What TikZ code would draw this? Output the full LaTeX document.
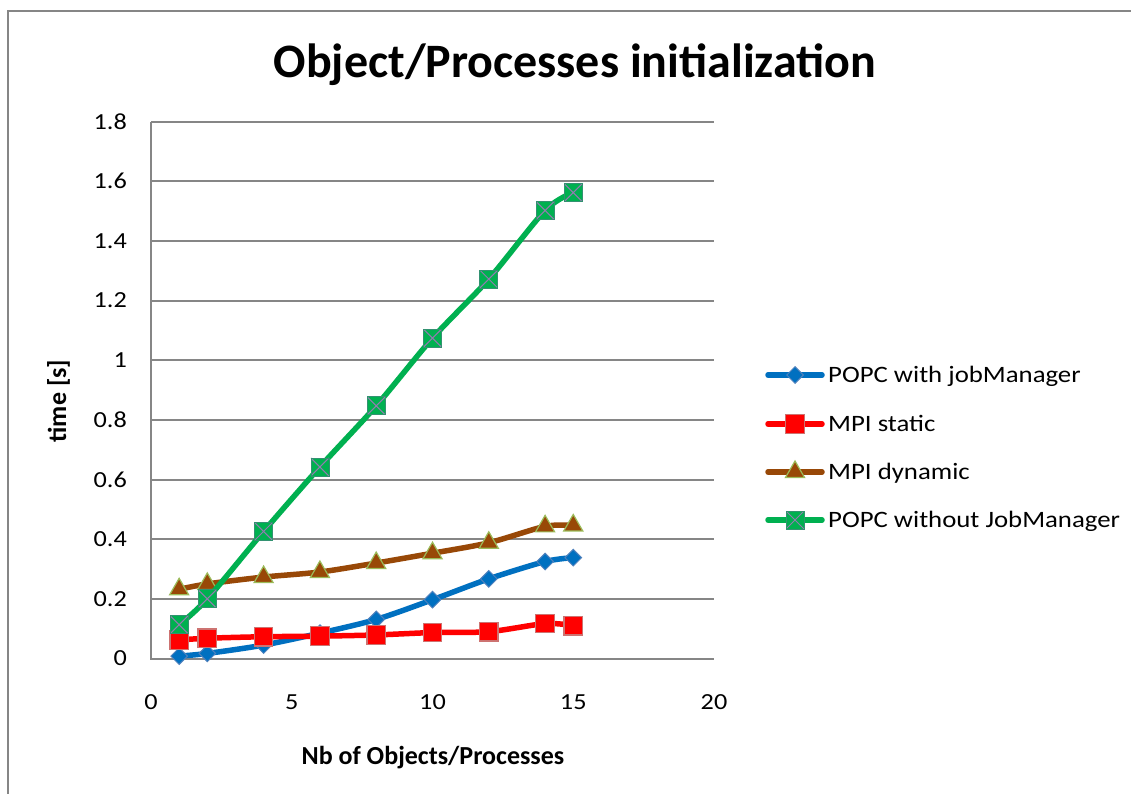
\documentclass[tikz,border=0pt]{standalone}
\usepackage{fontspec}
\setmainfont{Carlito}
\newfontfamily\widefont[FakeStretch=1.14]{Carlito}
\usetikzlibrary{shapes.geometric,calc}

\definecolor{gridgray}{HTML}{868686}
\definecolor{popcblue}{HTML}{0070C0}
\definecolor{diamondedge}{HTML}{4F81BD}
\definecolor{mpired}{HTML}{FF0000}
\definecolor{squareedge}{HTML}{C0504D}
\definecolor{dynbrown}{HTML}{984807}
\definecolor{triedge}{HTML}{9BBB59}
\definecolor{popcgreen}{HTML}{00B050}
\definecolor{crosspurple}{HTML}{8064A2}

\begin{document}
\begin{tikzpicture}[x=1pt,y=-1pt,
  frameline/.style={draw=gridgray, line width=2pt},
  axisline/.style={draw=gridgray, line width=2pt},
  series/.style={line width=5.5pt, line cap=round, line join=round},
  ticklabel/.style={font=\widefont\fontsize{23}{28}\selectfont, inner sep=0pt},
  axistitle/.style={font=\fontsize{26}{31}\selectfont\bfseries, inner sep=0pt},
  legendtext/.style={font=\widefont\fontsize{23.5}{28}\selectfont, inner sep=0pt, anchor=base west},
  mkdiamond/.style={diamond, fill=popcblue, draw=diamondedge, line width=1pt,
    minimum width=17pt, minimum height=17pt, inner sep=0pt},
  mksquare/.style={rectangle, fill=mpired, draw=squareedge!80, line width=1.2pt,
    minimum size=18.5pt, inner sep=0pt},
  mktriangle/.style={regular polygon, regular polygon sides=3, fill=dynbrown,
    draw=triedge, line width=1.2pt, minimum size=22pt, inner sep=0pt},
  mkcross/.style={rectangle, fill=popcgreen, draw=crosspurple!40!popcgreen, line width=0.8pt,
    minimum size=18pt, inner sep=0pt,
    path picture={\draw[crosspurple!85, line width=1pt]
      (path picture bounding box.north west) -- (path picture bounding box.south east)
      (path picture bounding box.north east) -- (path picture bounding box.south west);}},
]
\useasboundingbox (0,0) rectangle (1131,794);
\fill[white] (0,0) rectangle (1131,794);

% chart frame
\draw[frameline] (8,794) -- (8,11) -- (1131,11);

% title
\node[font=\fontsize{48}{56}\selectfont\bfseries, anchor=base, inner sep=0pt] (title)
  at (575,78) {Object/Processes initialization};

% axis titles
\node[axistitle, anchor=base] (xtitle) at (433,764) {Nb of Objects/Processes};
\node[axistitle, anchor=base, rotate=90] (ytitle) at (66,401) {time [s]};

% plot area: x from 0 to 20, y from 0 to 1.8
\begin{scope}[shift={(151,658.5)}, x=28.15pt, y=298.3pt]
  \foreach \v [count=\i] in {0.2,0.4,0.6,0.8,1.0,1.2,1.4,1.6,1.8}
    \draw[axisline] (0,\v) -- (20,\v);
  \draw[axisline] (0,1.8) -- (0,0) -- (20,0);

  \foreach \v/\t [count=\i] in {0/0,0.2/0.2,0.4/0.4,0.6/0.6,0.8/0.8,1.0/1,1.2/1.2,1.4/1.4,1.6/1.6,1.8/1.8}
    \node[ticklabel, anchor=east] (yt\i) at ([xshift=-24pt]0,\v) {\t};
  \foreach \v [count=\i] in {0,5,10,15,20}
    \node[ticklabel] (xt\i) at ([yshift=-43.5pt]\v,0) {\v};

  % POPC with jobManager
  \draw[series, popcblue] plot[smooth, tension=0.5] coordinates
    {(1,0.008) (2,0.017) (4,0.045) (6,0.085) (8,0.131) (10,0.197) (12,0.267) (14,0.325) (15,0.338)};
  \foreach \x/\y [count=\i] in {1/0.008,2/0.017,4/0.045,6/0.085,8/0.131,10/0.197,12/0.267,14/0.325,15/0.338}
    \node[mkdiamond] (pb\i) at (\x,\y) {};

  % MPI static
  \draw[series, mpired] plot[smooth, tension=0.5] coordinates
    {(1,0.062) (2,0.068) (4,0.073) (6,0.075) (8,0.079) (10,0.087) (12,0.09) (14,0.117) (15,0.11)};
  \foreach \x/\y [count=\i] in {1/0.062,2/0.068,4/0.073,6/0.075,8/0.079,10/0.087,12/0.09,14/0.117,15/0.11}
    \node[mksquare] (ms\i) at (\x,\y) {};

  % MPI dynamic
  \draw[series, dynbrown] plot[smooth, tension=0.5] coordinates
    {(1,0.232) (2,0.25) (4,0.273) (6,0.29) (8,0.32) (10,0.353) (12,0.388) (14,0.443) (15,0.446)};
  \foreach \x/\y [count=\i] in {1/0.232,2/0.25,4/0.273,6/0.29,8/0.32,10/0.353,12/0.388,14/0.443,15/0.446}
    \node[mktriangle] (md\i) at (\x,\y) {};

  % POPC without JobManager
  \draw[series, popcgreen] plot[smooth, tension=0.5] coordinates
    {(1,0.113) (2,0.2) (4,0.426) (6,0.642) (8,0.847) (10,1.074) (12,1.272) (14,1.502) (15,1.562)};
  \foreach \x/\y [count=\i] in {1/0.113,2/0.2,4/0.426,6/0.642,8/0.847,10/1.074,12/1.272,14/1.502,15/1.562}
    \node[mkcross] (pg\i) at (\x,\y) {};
\end{scope}

% legend
\coordinate (la1) at (768,375); \coordinate (lb1) at (822,375);
\coordinate (la2) at (768,424); \coordinate (lb2) at (822,424);
\coordinate (la3) at (768,472); \coordinate (lb3) at (822,472);
\coordinate (la4) at (768,520); \coordinate (lb4) at (822,520);

\draw[series, popcblue] (la1) -- (lb1);
\node[mkdiamond] (lm1) at ($(la1)!0.5!(lb1)$) {};
\node[legendtext] (lt1) at (828,382.5) {POPC with jobManager};

\draw[series, mpired] (la2) -- (lb2);
\node[mksquare] (lm2) at ($(la2)!0.5!(lb2)$) {};
\node[legendtext] (lt2) at (828,431.5) {MPI static};

\draw[series, dynbrown] (la3) -- (lb3);
\node[mktriangle] (lm3) at ($(la3)!0.5!(lb3)$) {};
\node[legendtext] (lt3) at (828,479.5) {MPI dynamic};

\draw[series, popcgreen] (la4) -- (lb4);
\node[mkcross] (lm4) at ($(la4)!0.5!(lb4)$) {};
\node[legendtext] (lt4) at (828,527.5) {POPC without JobManager};
\end{tikzpicture}
\end{document}
